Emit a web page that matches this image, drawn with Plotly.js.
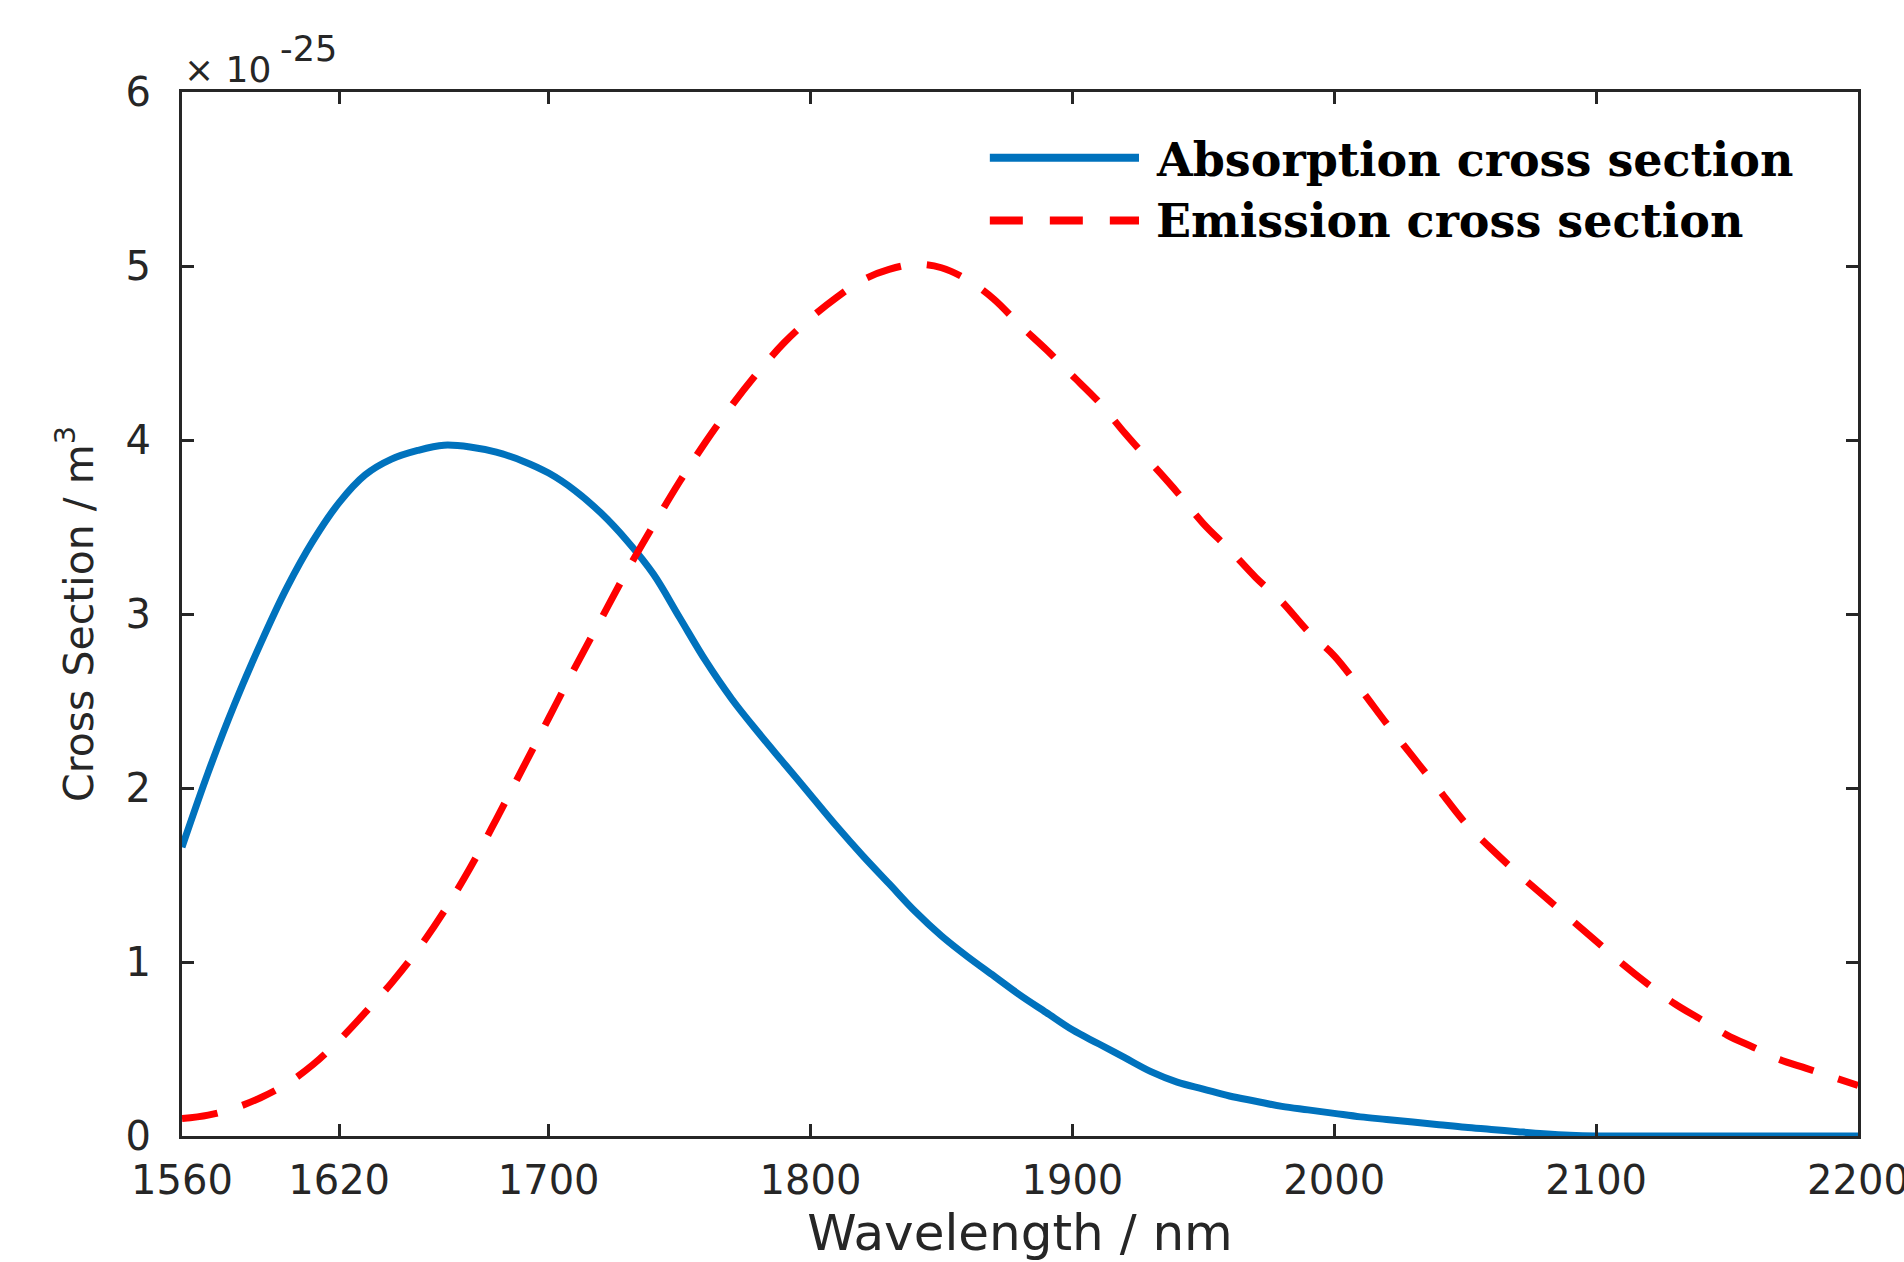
<!DOCTYPE html>
<html>
<head>
<meta charset="utf-8">
<script src="https://cdn.plot.ly/plotly-3.0.1.min.js"></script>
<style>
  html, body { margin: 0; padding: 0; background: #ffffff; }
  #chart { width: 1904px; height: 1262px; }
</style>
</head>
<body>
<div id="chart"></div>
<script>
// Wavelength grid (nm)
const wavelength = [1560,1570,1580,1590,1600,1610,1620,1630,1640,1650,1660,1670,1680,1690,1700,
  1710,1720,1730,1740,1750,1760,1770,1780,1790,1800,1810,1820,1830,1840,1850,1860,1870,1880,1890,
  1900,1910,1920,1930,1940,1950,1960,1970,1980,1990,2000,2010,2020,2030,2040,2050,2060,2070,2080,
  2090,2100,2110,2120,2130,2140,2150,2160,2170,2180,2190,2200];

// Absorption cross section (x 1e-25)
const absorption = [1.66,2.09,2.48,2.83,3.15,3.42,3.64,3.80,3.89,3.94,3.97,3.96,3.93,3.88,3.81,
  3.71,3.58,3.42,3.23,2.98,2.73,2.51,2.32,2.14,1.96,1.78,1.61,1.45,1.29,1.15,1.03,0.92,0.81,0.71,
  0.61,0.53,0.45,0.37,0.31,0.27,0.23,0.20,0.17,0.15,0.13,0.11,0.095,0.08,0.065,0.05,0.038,0.025,0.013,
  0.004,0,0,0,0,0,0,0,0,0,0,0];

// Emission cross section (x 1e-25)
const emission = [0.10,0.12,0.16,0.22,0.30,0.41,0.55,0.71,0.88,1.07,1.29,1.54,1.82,2.11,2.40,
  2.69,2.97,3.25,3.51,3.76,3.99,4.20,4.39,4.56,4.70,4.82,4.92,4.98,5.01,4.99,4.92,4.81,4.66,4.52,
  4.37,4.22,4.04,3.87,3.70,3.52,3.37,3.21,3.07,2.90,2.76,2.57,2.37,2.18,1.99,1.80,1.65,1.51,1.38,
  1.25,1.12,0.99,0.87,0.76,0.67,0.58,0.51,0.44,0.39,0.34,0.29];

const seriesNames = ['Absorption cross section', 'Emission cross section'];
const xTicks = [1560,1620,1700,1800,1900,2000,2100,2200];
const yTicks = [0,1,2,3,4,5,6];

const blue = '#0072BD';
const red = '#FF0000';
const axisColor = '#262626';

const traces = [
  { x: wavelength, y: absorption, name: seriesNames[0], type: 'scatter', mode: 'lines',
    line: { color: blue, width: 7, shape: 'spline', smoothing: 1 } },
  { x: wavelength, y: emission, name: seriesNames[1], type: 'scatter', mode: 'lines',
    line: { color: red, width: 7, dash: '36px,26px', shape: 'spline', smoothing: 1 } }
];

const axisCommon = {
  showgrid: false, zeroline: false,
  showline: true, linecolor: axisColor, linewidth: 3, mirror: 'ticks',
  ticks: 'inside', ticklen: 12, tickwidth: 3, tickcolor: axisColor,
  tickfont: { family: 'DejaVu Sans', size: 40, color: axisColor }
};

const layout = {
  width: 1904, height: 1262,
  margin: { l: 182, r: 46, t: 92, b: 126 },
  paper_bgcolor: '#ffffff', plot_bgcolor: '#ffffff',
  showlegend: false,
  font: { family: 'DejaVu Sans', color: axisColor },
  xaxis: Object.assign({}, axisCommon, {
    range: [1560, 2200], tickmode: 'array', tickvals: xTicks, ticktext: xTicks.map(String),
    ticklabelstandoff: 7, ticklabeloverflow: 'allow',
    title: { text: 'Wavelength / nm', font: { family: 'DejaVu Sans', size: 50, color: axisColor }, standoff: 58 }
  }),
  yaxis: Object.assign({}, axisCommon, {
    range: [0, 6], tickmode: 'array', tickvals: yTicks, ticktext: yTicks.map(String),
    ticklabelstandoff: 20,
    title: { text: 'Cross Section / m<sup>3</sup>', font: { family: 'DejaVu Sans', size: 41, color: axisColor }, standoff: 20 }
  }),
  shapes: [
    { type: 'line', xref: 'paper', yref: 'paper', x0: 0.482, x1: 0.571, y0: 0.937, y1: 0.937,
      line: { color: blue, width: 8 } },
    { type: 'line', xref: 'paper', yref: 'paper', x0: 0.482, x1: 0.571, y0: 0.877, y1: 0.877,
      line: { color: red, width: 8, dash: '33px,27px' } }
  ],
  annotations: [
    { xref: 'paper', yref: 'paper', x: 0.58, y: 0.935, xanchor: 'left', yanchor: 'middle',
      text: seriesNames[0], showarrow: false,
      font: { family: 'DejaVu Serif', size: 46, color: '#000000', weight: 'bold' } },
    { xref: 'paper', yref: 'paper', x: 0.58, y: 0.876, xanchor: 'left', yanchor: 'middle',
      text: seriesNames[1], showarrow: false,
      font: { family: 'DejaVu Serif', size: 46, color: '#000000', weight: 'bold' } },
    { xref: 'paper', yref: 'paper', x: 0.0, y: 1.022, xanchor: 'left', yanchor: 'middle',
      text: '× 10', showarrow: false,
      font: { family: 'DejaVu Sans', size: 36, color: axisColor } },
    { xref: 'paper', yref: 'paper', x: 0.0575, y: 1.041, xanchor: 'left', yanchor: 'middle',
      text: '-25', showarrow: false,
      font: { family: 'DejaVu Sans', size: 35, color: axisColor } }
  ]
};

Plotly.newPlot('chart', traces, layout, { staticPlot: true, displayModeBar: false });
</script>
</body>
</html>
